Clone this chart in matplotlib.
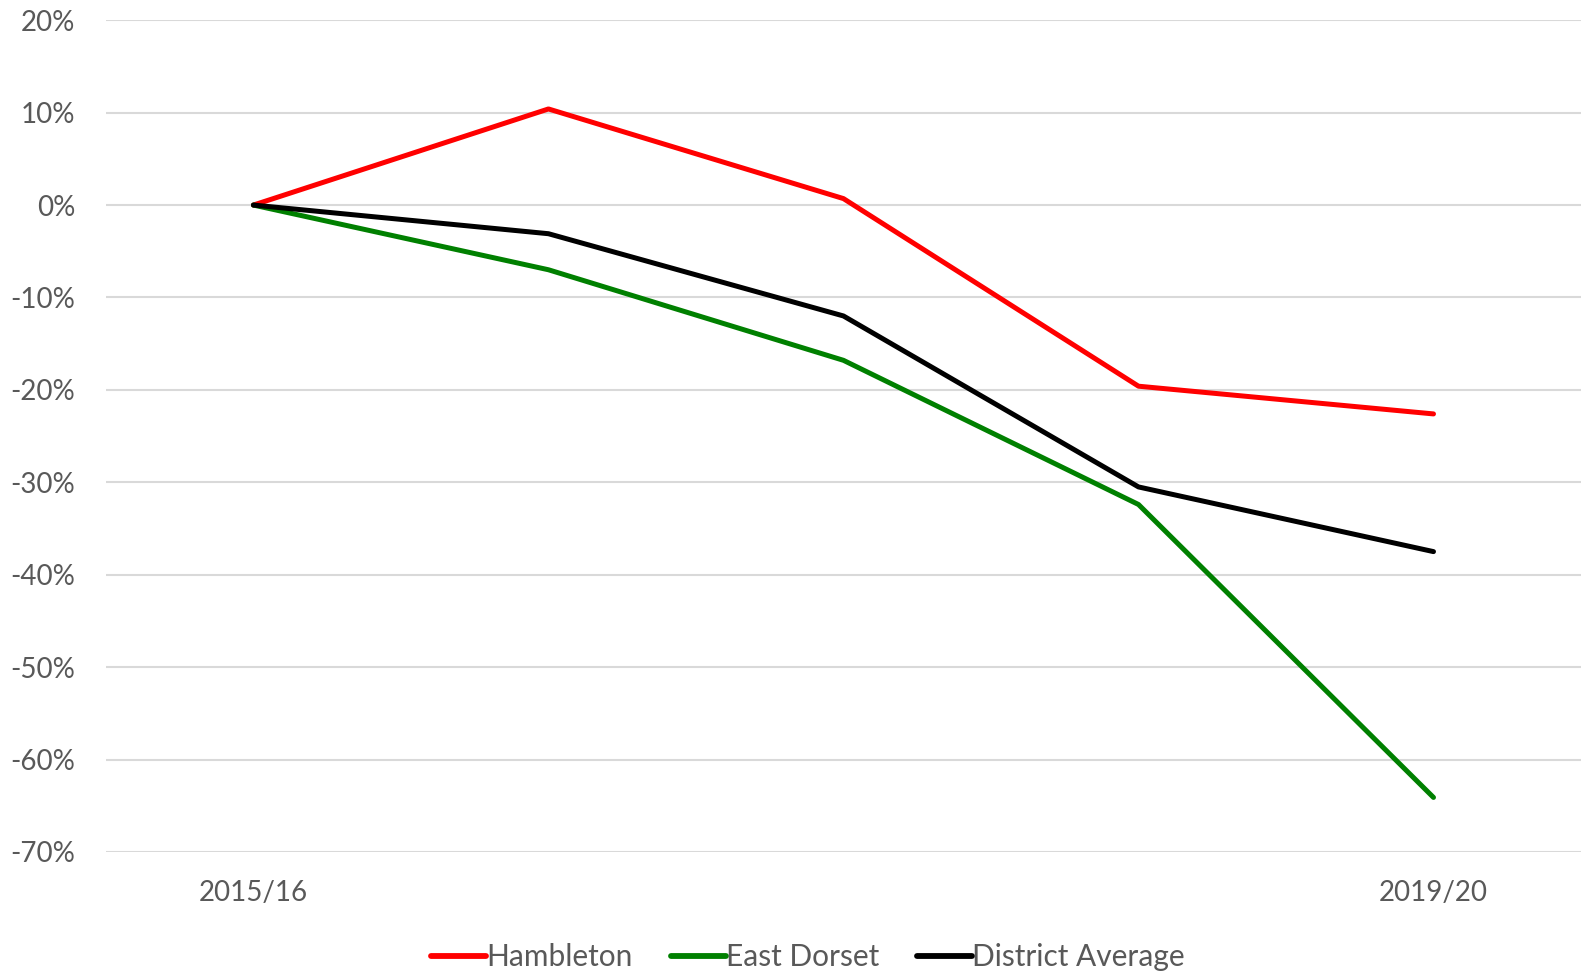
import matplotlib
matplotlib.use("Agg")
import matplotlib.pyplot as plt
from matplotlib.ticker import PercentFormatter

years = ["2015/16", "2016/17", "2017/18", "2018/19", "2019/20"]
hambleton = [0.0, 10.4, 0.7, -19.6, -22.6]
east_dorset = [0.0, -7.0, -16.8, -32.4, -64.1]
district_avg = [0.0, -3.1, -12.0, -30.5, -37.5]

plt.rcParams['font.family'] = ['Lato', 'DejaVu Sans']
plt.rcParams['axes.unicode_minus'] = False

fig = plt.figure(figsize=(15.81, 9.73), dpi=100)
ax = fig.add_axes([0.067, 0.1244, 0.933, 0.8548])

x = list(range(len(years)))
series = [
    ("Hambleton", hambleton, "#ff0000"),
    ("East Dorset", east_dorset, "#008000"),
    ("District Average", district_avg, "#000000"),
]
for name, vals, col in series:
    ax.plot(x, [v / 100 for v in vals], color=col, lw=3.6,
            solid_capstyle='round', solid_joinstyle='round', label=name)

ax.set_xlim(-0.5, len(years) - 0.5)
ax.set_ylim(-0.7, 0.2)
ax.set_yticks([i / 10 for i in range(-7, 3)])
ax.yaxis.set_major_formatter(PercentFormatter(1.0, decimals=0))
ax.set_xticks([0, len(years) - 1])
ax.set_xticklabels([years[0], years[-1]])

ax.grid(axis='y', color='#d9d9d9', lw=1.5)
ax.set_axisbelow(True)
for s in ax.spines.values():
    s.set_visible(False)
ax.tick_params(length=0, labelsize=20, colors='#595959')
ax.tick_params(axis='y', pad=22)
ax.tick_params(axis='x', pad=20)

leg = fig.legend(loc='lower center', ncol=3, frameon=False, fontsize=21.5,
                 bbox_to_anchor=(0.511, -0.026), handlelength=1.85,
                 handletextpad=0.0, columnspacing=1.27)
for line in leg.get_lines():
    line.set_linewidth(4.2)
for t in leg.get_texts():
    t.set_color('#595959')

fig.savefig("out.png", dpi=100)
